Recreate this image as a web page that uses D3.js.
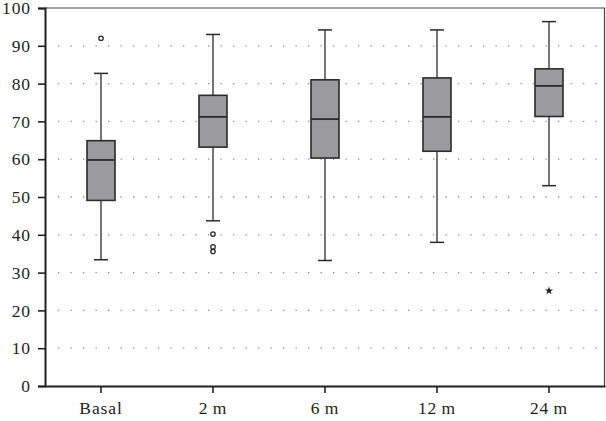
<!DOCTYPE html>
<html>
<head>
<meta charset="utf-8">
<script src="https://cdn.jsdelivr.net/npm/d3@7"></script>
<style>
  body { margin: 0; background: #fff; }
  text { font-family: "Liberation Serif", "DejaVu Serif", serif; fill: #231f20; letter-spacing: 0.9px; }
</style>
</head>
<body>
<script>
// data
const categories = ["Basal", "2\u2009m", "6\u2009m", "12\u2009m", "24\u2009m"];
const whiskerLow = [33.4, 43.7, 33.2, 38.0, 53.0];
const q1 = [49.1, 63.2, 60.3, 62.1, 71.3];
const median = [59.8, 71.2, 70.6, 71.2, 79.4];
const q3 = [64.9, 76.9, 81.0, 81.5, 83.9];
const whiskerHigh = [82.7, 93.0, 94.2, 94.2, 96.4];
// circles (outliers) and stars (extremes)
const outlierCat = ["Basal", "2\u2009m", "2\u2009m", "2\u2009m"];
const outlierVal = [92.0, 40.2, 36.8, 35.6];
const extremeCat = ["24\u2009m"];
const extremeVal = [25.2];
const yTicks = [0, 10, 20, 30, 40, 50, 60, 70, 80, 90, 100];

const W = 606, H = 421;
const margin = { top: 8, right: 1, bottom: 35, left: 45 };

const boxes = categories.map((c, i) => ({
  cat: c, lo: whiskerLow[i], q1: q1[i], med: median[i], q3: q3[i], hi: whiskerHigh[i]
}));

const svg = d3.select("body").append("svg")
  .attr("width", W)
  .attr("height", H);

const x = d3.scaleBand()
  .domain(categories)
  .range([margin.left, W - margin.right]);

const y = d3.scaleLinear()
  .domain([0, 100])
  .range([H - margin.bottom, margin.top]);

const boxW = 28, capW = 14;

// dotted grid
svg.append("g")
  .selectAll("line")
  .data(yTicks.filter(d => d > 0 && d < 100))
  .enter().append("line")
  .attr("x1", margin.left + 13)
  .attr("x2", W - margin.right - 4)
  .attr("y1", d => y(d))
  .attr("y2", d => y(d))
  .attr("stroke", "#8a8a8a")
  .attr("stroke-width", 1.3)
  .attr("stroke-dasharray", "1.3 11.2");

// top / right frame
svg.append("path")
  .attr("d", `M${margin.left},${y(100)}H${W - margin.right - 0.5}V${y(0)}`)
  .attr("fill", "none")
  .attr("stroke", "#444")
  .attr("stroke-width", 1.2);

// whiskers
const g = svg.append("g").selectAll("g")
  .data(boxes)
  .enter().append("g")
  .attr("transform", d => "translate(" + (x(d.cat) + x.bandwidth() / 2) + ",0)");

g.append("line")
  .attr("y1", d => y(d.lo)).attr("y2", d => y(d.q1))
  .attr("stroke", "#2b2b2b").attr("stroke-width", 1.3);
g.append("line")
  .attr("y1", d => y(d.q3)).attr("y2", d => y(d.hi))
  .attr("stroke", "#2b2b2b").attr("stroke-width", 1.3);
g.append("line")
  .attr("x1", -capW / 2).attr("x2", capW / 2)
  .attr("y1", d => y(d.lo)).attr("y2", d => y(d.lo))
  .attr("stroke", "#2b2b2b").attr("stroke-width", 1.5);
g.append("line")
  .attr("x1", -capW / 2).attr("x2", capW / 2)
  .attr("y1", d => y(d.hi)).attr("y2", d => y(d.hi))
  .attr("stroke", "#2b2b2b").attr("stroke-width", 1.5);

// box
g.append("rect")
  .attr("x", -boxW / 2)
  .attr("width", boxW)
  .attr("y", d => y(d.q3))
  .attr("height", d => y(d.q1) - y(d.q3))
  .attr("fill", "#9b9b9f")
  .attr("stroke", "#2b2b2b")
  .attr("stroke-width", 1.6);

// median
g.append("line")
  .attr("x1", -boxW / 2).attr("x2", boxW / 2)
  .attr("y1", d => y(d.med)).attr("y2", d => y(d.med))
  .attr("stroke", "#2b2b2b").attr("stroke-width", 1.8);

// outliers
svg.append("g").selectAll("circle")
  .data(outlierVal)
  .enter().append("circle")
  .attr("cx", (d, i) => x(outlierCat[i]) + x.bandwidth() / 2)
  .attr("cy", d => y(d))
  .attr("r", 2.2)
  .attr("fill", "#fff")
  .attr("stroke", "#2b2b2b")
  .attr("stroke-width", 1.3);

// extremes
svg.append("g").selectAll("path")
  .data(extremeVal)
  .enter().append("path")
  .attr("transform", (d, i) => "translate(" + (x(extremeCat[i]) + x.bandwidth() / 2) + "," + y(d) + ")")
  .attr("d", d3.symbol(d3.symbolStar, 22))
  .attr("fill", "#231f20");

// y axis
const yAxis = svg.append("g")
  .attr("transform", "translate(" + margin.left + ",0)")
  .call(d3.axisLeft(y).tickValues(yTicks).tickSize(7).tickPadding(7));
yAxis.select(".domain").attr("stroke", "#231f20").attr("stroke-width", 2);
yAxis.selectAll(".tick line").attr("stroke", "#231f20").attr("stroke-width", 1.6);
yAxis.selectAll("text").attr("font-size", 17.5).attr("font-family", null);

// x axis
const xAxis = svg.append("g")
  .attr("transform", "translate(0," + y(0) + ")")
  .call(d3.axisBottom(x).tickSize(7).tickSizeOuter(0).tickPadding(9));
xAxis.select(".domain").attr("stroke", "#231f20").attr("stroke-width", 2);
xAxis.selectAll(".tick line").attr("stroke", "#231f20").attr("stroke-width", 1.6);
xAxis.selectAll("text").attr("font-size", 17.5).attr("font-family", null);
</script>
</body>
</html>
